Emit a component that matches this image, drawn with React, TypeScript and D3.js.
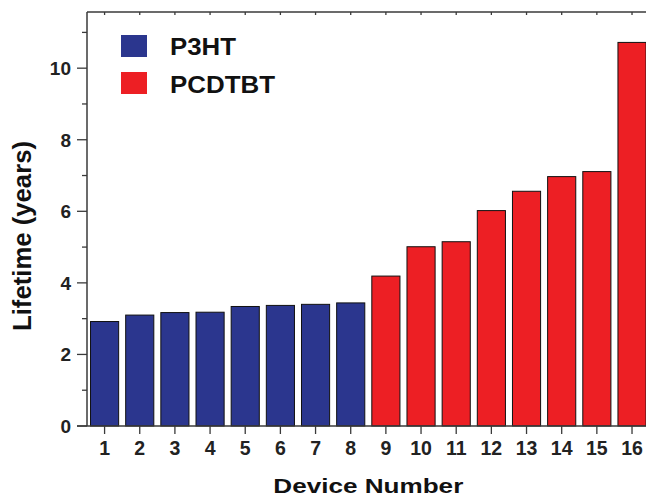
import * as d3 from 'd3';
import { useEffect, useRef } from 'react';

const devices = ['1', '2', '3', '4', '5', '6', '7', '8', '9', '10', '11', '12', '13', '14', '15', '16'];
const lifetimes = [2.92, 3.1, 3.17, 3.18, 3.34, 3.37, 3.4, 3.44, 4.19, 5.01, 5.15, 6.02, 6.56, 6.97, 7.11, 10.72];
const materials = ['P3HT', 'P3HT', 'P3HT', 'P3HT', 'P3HT', 'P3HT', 'P3HT', 'P3HT',
    'PCDTBT', 'PCDTBT', 'PCDTBT', 'PCDTBT', 'PCDTBT', 'PCDTBT', 'PCDTBT', 'PCDTBT'];
const legendLabels = ['P3HT', 'PCDTBT'];
const yMajorTicks = [0, 2, 4, 6, 8, 10];
const yMinorTicks = [1, 3, 5, 7, 9, 11];

const colors: Record<string, string> = { P3HT: '#2b368e', PCDTBT: '#ed1f24' };
const FONT = '"Liberation Sans", Arial, sans-serif';

export default function App() {
    const ref = useRef<SVGSVGElement | null>(null);

    useEffect(() => {
        if (!ref.current) return;
        const width = 646;
        const height = 497;
        const plot = { left: 87, right: 649.6, top: 12, bottom: 426 };

        const svg = d3.select(ref.current);
        svg.selectAll('*').remove();

        const x = d3.scaleBand<string>()
            .domain(devices)
            .range([plot.left, plot.right])
            .paddingInner(0.2)
            .paddingOuter(0.1);

        const y = d3.scaleLinear()
            .domain([0, 11.57])
            .range([plot.bottom, plot.top]);

        const axisColor = '#3a3a3a';

        // bars
        svg.append('g')
            .selectAll('rect')
            .data(devices)
            .join('rect')
            .attr('x', d => x(d) as number)
            .attr('y', (d, i) => y(lifetimes[i]))
            .attr('width', x.bandwidth())
            .attr('height', (d, i) => y(0) - y(lifetimes[i]))
            .attr('fill', (d, i) => colors[materials[i]])
            .attr('stroke', '#111')
            .attr('stroke-width', 1);

        // frame: left, top, bottom (right edge is cut off)
        const frame = svg.append('g')
            .attr('stroke', axisColor)
            .attr('stroke-width', 1.5)
            .attr('fill', 'none');
        frame.append('line').attr('x1', plot.left).attr('x2', plot.left).attr('y1', plot.top).attr('y2', plot.bottom);
        frame.append('line').attr('x1', plot.left).attr('x2', width).attr('y1', plot.top).attr('y2', plot.top);
        frame.append('line').attr('x1', plot.left - 10).attr('x2', width).attr('y1', plot.bottom).attr('y2', plot.bottom);

        // y ticks
        const yg = svg.append('g').attr('stroke', axisColor).attr('stroke-width', 1.3);
        yg.selectAll('line.maj').data(yMajorTicks).join('line')
            .attr('class', 'maj')
            .attr('x1', plot.left - 10).attr('x2', plot.left)
            .attr('y1', d => y(d)).attr('y2', d => y(d));
        yg.selectAll('line.min').data(yMinorTicks).join('line')
            .attr('class', 'min')
            .attr('x1', plot.left - 5).attr('x2', plot.left)
            .attr('y1', d => y(d)).attr('y2', d => y(d));

        svg.append('g')
            .selectAll('text')
            .data(yMajorTicks)
            .join('text')
            .attr('x', plot.left - 16)
            .attr('y', d => y(d))
            .attr('dy', '0.36em')
            .attr('text-anchor', 'end')
            .style('font-family', FONT)
            .style('font-weight', 'bold')
            .style('font-size', '19px')
            .attr('fill', '#222')
            .text(d => d);

        // x ticks (outward at bottom, inward at top)
        const xg = svg.append('g').attr('stroke', axisColor).attr('stroke-width', 1.3);
        xg.selectAll('line.bot').data(devices).join('line')
            .attr('class', 'bot')
            .attr('x1', d => (x(d) as number) + x.bandwidth() / 2)
            .attr('x2', d => (x(d) as number) + x.bandwidth() / 2)
            .attr('y1', plot.bottom).attr('y2', plot.bottom + 8);
        xg.selectAll('line.top').data(devices).join('line')
            .attr('class', 'top')
            .attr('x1', d => (x(d) as number) + x.bandwidth() / 2)
            .attr('x2', d => (x(d) as number) + x.bandwidth() / 2)
            .attr('y1', plot.top).attr('y2', plot.top + 3);

        svg.append('g')
            .selectAll('text')
            .data(devices)
            .join('text')
            .attr('x', d => (x(d) as number) + x.bandwidth() / 2)
            .attr('y', 455)
            .attr('text-anchor', 'middle')
            .style('font-family', FONT)
            .style('font-weight', 'bold')
            .style('font-size', '19.5px')
            .attr('fill', '#222')
            .text(d => d);

        // axis titles
        svg.append('text')
            .attr('x', (plot.left + plot.right) / 2)
            .attr('y', 493)
            .attr('text-anchor', 'middle')
            .attr('textLength', 190)
            .attr('lengthAdjust', 'spacingAndGlyphs')
            .style('font-family', FONT)
            .style('font-weight', 'bold')
            .style('font-size', '21px')
            .attr('fill', '#111')
            .text('Device Number');

        svg.append('text')
            .attr('transform', 'translate(31,236) rotate(-90)')
            .attr('text-anchor', 'middle')
            .attr('textLength', 190)
            .attr('lengthAdjust', 'spacingAndGlyphs')
            .style('font-family', FONT)
            .style('font-weight', 'bold')
            .style('font-size', '25px')
            .attr('fill', '#111')
            .text('Lifetime (years)');

        // legend
        const legend = svg.append('g').attr('transform', 'translate(121,35)');
        legendLabels.forEach((name, i) => {
            legend.append('rect')
                .attr('x', 0)
                .attr('y', i * 37)
                .attr('width', 26)
                .attr('height', 22)
                .attr('fill', colors[name]);
            legend.append('text')
                .attr('x', 49)
                .attr('y', i * 38.5 + 19.5)
                .attr('textLength', i === 0 ? 66 : 105)
                .attr('lengthAdjust', 'spacingAndGlyphs')
                .style('font-family', FONT)
                .style('font-weight', 'bold')
                .style('font-size', '24px')
                .attr('fill', '#111')
                .text(name);
        });

        svg.attr('width', width).attr('height', height);
    }, []);

    return (
        <svg
            ref={ref}
            width={646}
            height={497}
            style={{ position: 'absolute', left: 0, top: 0, background: '#fff' }}
        />
    );
}
